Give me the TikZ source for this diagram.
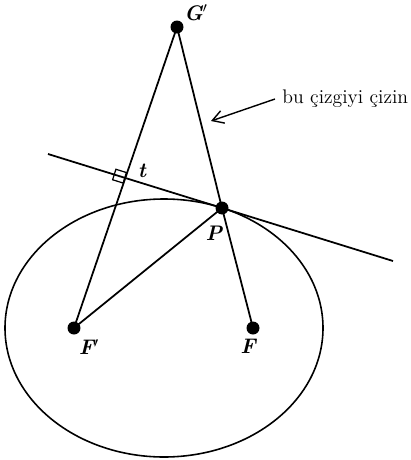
\documentclass[tikz,border=0pt]{standalone}
\usepackage{tikz}
\usetikzlibrary{arrows.meta, positioning, calc}

\begin{document}
\begin{tikzpicture}[
    x=0.02cm, y=-0.02cm,
    dot/.style={circle, fill, inner sep=0pt, minimum size=0.26cm},
    lbl/.style={font=\large\bfseries\itshape, inner sep=1pt},
    line/.style={line width=1pt},
    pointer/.style={-{Straight Barb[length=2.2mm, width=2.6mm]}, line width=0.8pt}
  ]
  \useasboundingbox (0,0) rectangle (411,460);
  \coordinate (G) at (177,27);
  \coordinate (P) at (222,208);
  \coordinate (Fp) at (74,328);
  \coordinate (F) at (253,328);
  \coordinate (tL) at (48,154);
  \coordinate (tR) at (393,261);
  \coordinate (Q) at (intersection of Fp--G and tL--tR);
  \coordinate (tip) at (211,121);

  \draw[line width=0.9pt] (164,328) ellipse [x radius=159, y radius=129];
  \draw[line] (tL) -- (tR);
  \draw[line] (Fp) -- (G);
  \draw[line] (G) -- (P) -- (F);
  \draw[line] (Fp) -- (P);
  \node[draw, line width=0.7pt, rectangle, minimum size=0.22cm, inner sep=0pt,
        rotate=-17.5, anchor=east] (sq) at (Q) {};

  \node[dot] (Gd) at (G) {};
  \node[dot] (Pd) at (P) {};
  \node[dot] (Fpd) at (Fp) {};
  \node[dot] (Fd) at (F) {};

  \node[lbl] (Glbl) at (196,13) {G$'$};
  \node[lbl] (Plbl) at (214,233) {P};
  \node[lbl] (Fplbl) at (89,347) {F$'$};
  \node[lbl] (Flbl) at (248,346) {F};
  \node[lbl] (tlbl) at (142,171) {t};

  \node[anchor=west, inner sep=4pt, font=\fontsize{11.2}{13}\selectfont] (note) at (275,99) {bu çizgiyi çizin};
  \draw[pointer] (note.west) -- (tip);
\end{tikzpicture}
\end{document}
